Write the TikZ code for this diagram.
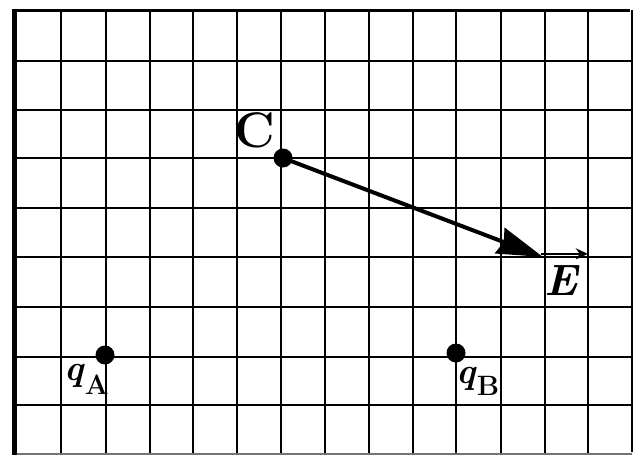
\documentclass[tikz,border=0pt]{standalone}
\usetikzlibrary{arrows.meta}
\begin{document}
\begin{tikzpicture}[x=1pt,y=-1pt,
  gridline/.style={line width=2.6pt,black},
  dot/.style={circle,fill=black,inner sep=0pt,minimum size=19pt},
  fieldarrow/.style={line width=4pt,-{Stealth[length=46pt,width=27pt,inset=4pt]}},
  lbl/.style={inner sep=0pt}]
\useasboundingbox (0,0) rectangle (635,455);
\fill[white] (0,0) rectangle (635,455);
\begin{scope}
\clip (0,0) rectangle (635,455);
\foreach \x in {61,106,150,193,237,281,325,369,413,456,501,545,588}
  \draw[gridline] (\x,10) -- (\x,455);
\foreach \y in {61,110,158,208,257,307,357,405}
  \draw[gridline] (16,\y) -- (632,\y);
\draw[gridline,black!55] (16,454) -- (632,454);
\draw[line width=3pt] (13,10) -- (630,10);
\draw[line width=5pt] (14.5,8.5) -- (14.5,455);
\draw[gridline] (632,10) -- (632,452);
\end{scope}
\node[dot] (C) at (283,158) {};
\node[dot] (qA) at (105,355) {};
\node[dot] (qB) at (456,353) {};
\coordinate (tip) at (543,257);
\draw[fieldarrow] (C.center) -- (tip);
\node[lbl, font=\fontsize{50}{56}\selectfont\bfseries] (Clbl) at (255,130) {C};
\node[lbl, font=\fontsize{44}{50}\selectfont\bfseries\itshape] (Elbl) at (561,281) {E};
\draw[line width=2.4pt, -{Stealth[length=12pt,width=11pt]}] ([xshift=-3pt,yshift=12pt]Elbl.north west) -- ([xshift=10pt,yshift=12pt]Elbl.north east);
\node[lbl, anchor=base west, font=\fontsize{28}{32}\selectfont\bfseries] (qAlbl) at (64,380) {{\fontsize{36}{40}\selectfont\textit{q}}\raisebox{-14pt}{A}};
\node[lbl, anchor=base west, font=\fontsize{28}{32}\selectfont\bfseries] (qBlbl) at (456,383) {{\fontsize{36}{40}\selectfont\textit{q}}\raisebox{-12pt}{B}};
\end{tikzpicture}
\end{document}
